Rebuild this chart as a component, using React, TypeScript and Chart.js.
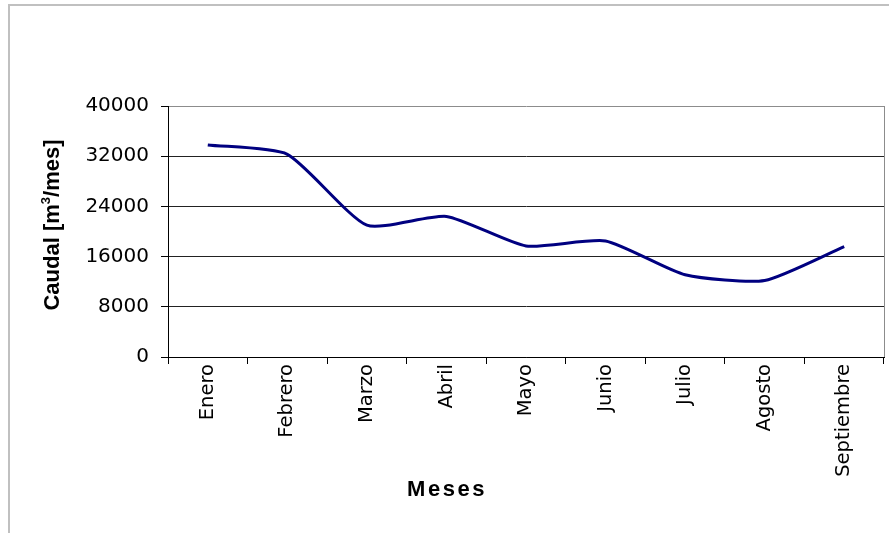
import { useEffect, useRef } from "react";
import { Chart, registerables } from "chart.js";

Chart.register(...registerables);

// Monthly flow data
const months = ["Enero", "Febrero", "Marzo", "Abril", "Mayo", "Junio", "Julio", "Agosto", "Septiembre"];
const caudal = [33800, 32300, 21000, 22400, 17700, 18500, 13100, 12200, 17600];
const yTickValues = [0, 8000, 16000, 24000, 32000, 40000];
const yTitleParts = ["Caudal [m", "3", "/mes]"];
const xTitle = "Meses";

const LINE_COLOR = "#000080";
const FRAME_GRAY = "#8c8c8c";

// Axis titles and the gray frame on the top/right of the plot area
const decorations = {
  id: "decorations",
  afterDraw(chart: any) {
    const { ctx, chartArea } = chart;
    ctx.save();

    // right border of the plot area
    ctx.strokeStyle = FRAME_GRAY;
    ctx.lineWidth = 1;
    ctx.beginPath();
    ctx.moveTo(Math.round(chartArea.right) + 0.5, chartArea.top);
    ctx.lineTo(Math.round(chartArea.right) + 0.5, chartArea.bottom);
    ctx.stroke();

    // y-axis title with superscript
    const mainFont = "bold 22px 'Liberation Sans', Arial, sans-serif";
    const supFont = "bold 13px 'Liberation Sans', Arial, sans-serif";
    ctx.fillStyle = "#000";
    ctx.font = mainFont;
    const w0 = ctx.measureText(yTitleParts[0]).width;
    const w2 = ctx.measureText(yTitleParts[2]).width;
    ctx.font = supFont;
    const w1 = ctx.measureText(yTitleParts[1]).width;
    const total = w0 + w1 + w2;
    ctx.translate(59, 225);
    ctx.rotate(-Math.PI / 2);
    ctx.textAlign = "left";
    ctx.textBaseline = "alphabetic";
    let x = -total / 2;
    ctx.font = mainFont;
    ctx.fillText(yTitleParts[0], x, 0);
    x += w0;
    ctx.font = supFont;
    ctx.fillText(yTitleParts[1], x, -9);
    x += w1;
    ctx.font = mainFont;
    ctx.fillText(yTitleParts[2], x, 0);
    ctx.restore();

    // x-axis title
    ctx.save();
    ctx.fillStyle = "#000";
    ctx.font = "bold 22px 'Liberation Sans', Arial, sans-serif";
    (ctx as any).letterSpacing = "2.5px";
    ctx.textAlign = "center";
    ctx.textBaseline = "alphabetic";
    ctx.fillText(xTitle, 447, 496);
    ctx.restore();
  },
};

export default function App() {
  const canvasRef = useRef<HTMLCanvasElement | null>(null);

  useEffect(() => {
    const canvas = canvasRef.current;
    if (!canvas) return;
    const chart = new Chart(canvas, {
      type: "line",
      data: {
        labels: months,
        datasets: [
          {
            data: caudal,
            borderColor: LINE_COLOR,
            backgroundColor: LINE_COLOR,
            borderWidth: 3,
            pointRadius: 0,
            tension: 0.2,
            fill: false,
          },
        ],
      },
      options: {
        responsive: false,
        animation: false,
        devicePixelRatio: 1,
        layout: { padding: { top: 106, right: 5, left: 0, bottom: 0 } },
        plugins: {
          legend: { display: false },
          tooltip: { enabled: false },
          title: { display: false },
        },
        scales: {
          x: {
            type: "category",
            offset: true,
            grid: {
              offset: true,
              drawOnChartArea: false,
              drawTicks: true,
              tickLength: 7,
              color: "#000",
              tickColor: "#000",
            },
            border: { display: true, color: "#000", width: 1 },
            ticks: {
              minRotation: 90,
              maxRotation: 90,
              autoSkip: false,
              padding: 0,
              color: "#000",
              font: { family: "'DejaVu Sans', sans-serif", size: 19.5 },
            },
            afterFit(scale: any) {
              scale.height = 176;
            },
          },
          y: {
            min: 0,
            max: 40000,
            grid: {
              drawTicks: true,
              tickLength: 7,
              color: (c: any) => (c.tick && c.tick.value === 40000 ? FRAME_GRAY : "#222"),
              tickColor: "#000",
            },
            border: { display: true, color: "#000", width: 1 },
            ticks: {
              padding: 12,
              color: "#000",
              font: { family: "'DejaVu Sans', sans-serif", size: 20 },
              callback: (v: any) => String(v),
            },
            afterBuildTicks(scale: any) {
              scale.ticks = yTickValues.map((v) => ({ value: v }));
            },
            afterFit(scale: any) {
              scale.width = 168;
            },
          },
        },
      },
      plugins: [decorations],
    });
    return () => chart.destroy();
  }, []);

  return (
    <div style={{ position: "fixed", left: 0, top: 0, width: 889, height: 533, background: "#fff", overflow: "hidden" }}>
      <div
        style={{
          position: "absolute",
          left: 8,
          top: 4,
          right: -10,
          bottom: -10,
          borderLeft: "2px solid #c0c0c0",
          borderTop: "2px solid #c0c0c0",
        }}
      />
      <canvas ref={canvasRef} width={889} height={533} style={{ position: "absolute", left: 0, top: 0 }} />
    </div>
  );
}
